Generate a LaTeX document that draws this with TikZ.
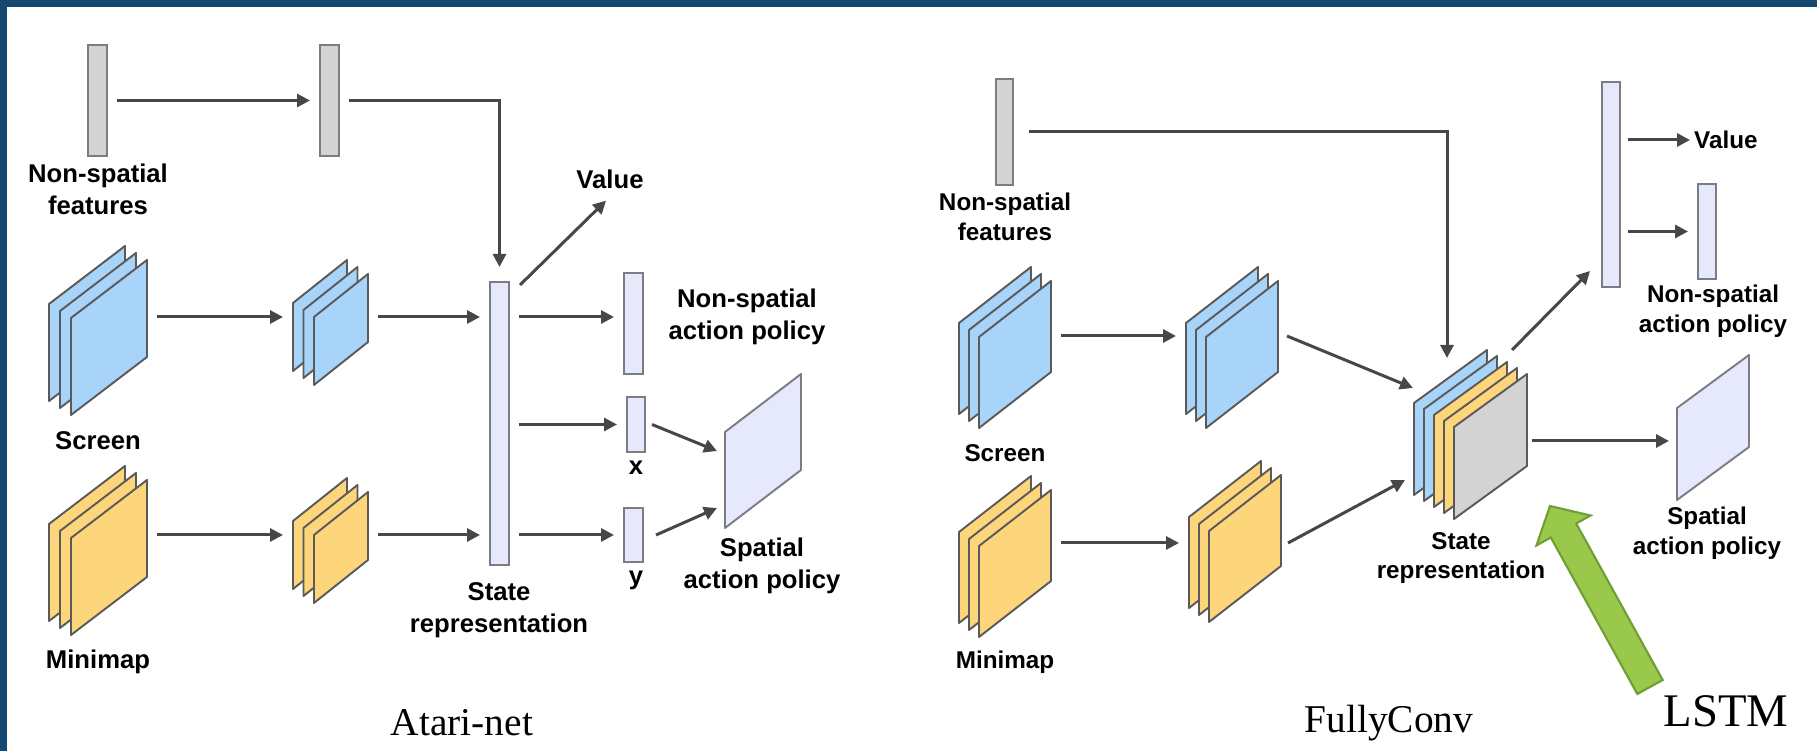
\documentclass[tikz,border=0pt]{standalone}
\usepackage{fontspec}
\setmainfont{Liberation Serif}
\newfontfamily\helv{Liberation Sans}
\usetikzlibrary{arrows.meta}

\definecolor{cadre}{HTML}{154870}
\definecolor{bleu}{HTML}{A9D4FA}
\definecolor{jaune}{HTML}{FDD57B}
\definecolor{gris}{HTML}{D3D3D3}
\definecolor{lavande}{HTML}{E6E9FB}
\definecolor{bordf}{HTML}{5A5A5A}
\definecolor{bordb}{HTML}{7C7C84}
\definecolor{trait}{HTML}{474747}
\definecolor{vert}{HTML}{99C84B}
\definecolor{vertfonce}{HTML}{6E9E35}

\begin{document}
\begin{tikzpicture}[x=0.1mm,y=-0.1mm]
% styles des éléments
\tikzstyle{feuille}=[draw=bordf, line width=0.55pt, line join=round]
\tikzstyle{barre}=[rectangle, draw=bordb, line width=0.6pt, inner sep=0pt, outer sep=0pt]
\tikzstyle{boite}=[rectangle, inner sep=0pt, outer sep=0pt, minimum height=1mm]
\tikzstyle{etiq}=[font={\helv\bfseries\fontsize{7.3}{9.1}\selectfont}, align=center, inner sep=1pt]
\tikzstyle{etiqB}=[etiq, font={\helv\bfseries\fontsize{6.9}{8.5}\selectfont}]
\tikzstyle{titre}=[font={\fontsize{11.2}{13}\selectfont}, inner sep=0pt]
% style des flèches
\tikzstyle{fleche}=[->, >={Triangle[length=1.3mm,width=1.3mm]}, line width=0.85pt, draw=trait, shorten <=1mm, shorten >=1mm]
\tikzstyle{diag}=[fleche, shorten <=0mm, shorten >=0mm]

% cadre
\useasboundingbox (0,0) rectangle (1817,751);
\fill[cadre] (0,0) rectangle (1817,7);
\fill[cadre] (0,0) rectangle (7,751);

% ---- Atari-net ----
% piles de cartes
\foreach \i in {0,1,2}
  \draw[feuille, fill=bleu] (49+11*\i,401+7*\i) -- ++(0,-97) -- ++(76,-58) -- ++(0,97) -- cycle;
\foreach \i in {0,1,2}
  \draw[feuille, fill=jaune] (49+11*\i,621+7*\i) -- ++(0,-97) -- ++(76,-58) -- ++(0,97) -- cycle;
\foreach \i in {0,1,2}
  \draw[feuille, fill=bleu] (293+10.5*\i,371+7*\i) -- ++(0,-68) -- ++(54,-43) -- ++(0,68) -- cycle;
\foreach \i in {0,1,2}
  \draw[feuille, fill=jaune] (293+10.5*\i,589+7*\i) -- ++(0,-68) -- ++(54,-43) -- ++(0,68) -- cycle;
\draw[feuille, draw=bordb, fill=lavande] (725,528) -- ++(0,-96) -- ++(76,-58) -- ++(0,96) -- cycle;
\node[boite, minimum width=9.8mm] (ecranA1) at (98,317) {};
\node[boite, minimum width=7.5mm] (ecranA2) at (330.5,317) {};
\node[boite, minimum width=9.8mm] (miniA1) at (98,535) {};
\node[boite, minimum width=7.5mm] (miniA2) at (330.5,535) {};
\node[boite, minimum width=7.6mm, minimum height=15.4mm] (spatA) at (763,451) {};
% barres
\node[barre, fill=gris, minimum width=1.9mm, minimum height=11.1mm] (nsfA1) at (97.5,100.5) {};
\node[barre, fill=gris, minimum width=1.9mm, minimum height=11.1mm] (nsfA2) at (329.5,100.5) {};
\node[barre, fill=lavande, minimum width=1.9mm, minimum height=28.3mm] (etatA) at (499.5,423.5) {};
\node[barre, fill=lavande, minimum width=1.9mm, minimum height=10.1mm] (nspA) at (633.5,323.5) {};
\node[barre, fill=lavande, minimum width=1.8mm, minimum height=5.5mm] (xA) at (636,424.5) {};
\node[barre, fill=lavande, minimum width=1.9mm, minimum height=5.4mm] (yA) at (633.5,535) {};
% textes
\node[etiq] (lblNsfA) at (98,189) {Non-spatial\\features};
\node[etiq] (lblEcranA) at (98,441) {Screen};
\node[etiq] (lblMiniA) at (98,662) {Minimap};
\node[etiq] (lblEtatA) at (499,610) {State\\representation};
\node[etiq] (valA) at (610,179) {Value};
\node[etiq] (lblNspA) at (747,317) {Non-spatial\\action policy};
\node[etiq] (lblxA) at (636,468) {x};
\node[etiq] (lblyA) at (636,580) {y};
\node[etiq] (lblSpatA) at (762,566) {Spatial\\action policy};
\node[titre] (titreA) at (462,723) {Atari-net};
% flèches
\draw[fleche] (nsfA1) -- (nsfA2);
\draw[fleche, shorten >=1.5mm] (nsfA2) -| (etatA);
\draw[fleche] (ecranA1) -- (ecranA2);
\draw[fleche] (ecranA2) -- (etatA.west |- ecranA2);
\draw[fleche] (miniA1) -- (miniA2);
\draw[fleche] (miniA2) -- (etatA.west |- miniA2);
\draw[diag] ([shift={(1.1mm,-0.3mm)}]etatA.north east) -- ([shift={(-0.4mm,-0.8mm)}]valA.south);
\draw[fleche] (etatA.east |- ecranA2) -- (nspA.west |- ecranA2);
\draw[fleche] (etatA.east |- xA) -- (xA);
\draw[fleche] (etatA.east |- yA) -- (yA);
\draw[diag] ([xshift=0.7mm]xA.east) -- ([xshift=-0.8mm]spatA.west);
\draw[diag] ([xshift=1.3mm]yA.east) -- ([shift={(-0.8mm,-5.7mm)}]spatA.west);

% ---- FullyConv ----
% piles de cartes
\foreach \i in {0,1,2}
  \draw[feuille, fill=bleu] (959+10*\i,414+7*\i) -- ++(0,-91) -- ++(72,-56) -- ++(0,91) -- cycle;
\foreach \i in {0,1,2}
  \draw[feuille, fill=bleu] (1186+10*\i,414+7*\i) -- ++(0,-91) -- ++(72,-56) -- ++(0,91) -- cycle;
\foreach \i in {0,1,2}
  \draw[feuille, fill=jaune] (959+10*\i,623+7*\i) -- ++(0,-91) -- ++(72,-56) -- ++(0,91) -- cycle;
\foreach \i in {0,1,2}
  \draw[feuille, fill=jaune] (1189+10*\i,608+7*\i) -- ++(0,-91) -- ++(72,-56) -- ++(0,91) -- cycle;
\foreach \c [count=\i from 0] in {bleu,bleu,jaune,jaune,gris}
  \draw[feuille, fill=\c] (1414+10*\i,495+6*\i) -- ++(0,-92) -- ++(73,-53) -- ++(0,92) -- cycle;
\draw[feuille, draw=bordb, fill=lavande] (1677,500) -- ++(0,-92) -- ++(72,-53) -- ++(0,92) -- cycle;
\node[boite, minimum width=9.2mm] (ecranB1) at (1005,336) {};
\node[boite, minimum width=9.2mm] (ecranB2) at (1232,336) {};
\node[boite, minimum width=9.2mm] (miniB1) at (1005,543) {};
\node[boite, minimum width=9.2mm] (miniB2) at (1235,543) {};
\node[boite, minimum width=11.3mm, minimum height=18.2mm] (etatB) at (1470.5,441) {};
\node[boite, minimum width=7.2mm, minimum height=14.5mm] (spatB) at (1713,427.5) {};
% barres
\node[barre, fill=gris, minimum width=1.7mm, minimum height=10.6mm] (nsfB) at (1004.5,132) {};
\node[barre, fill=lavande, minimum width=1.8mm, minimum height=20.5mm] (barreB) at (1611,184.5) {};
\node[barre, fill=lavande, minimum width=1.8mm, minimum height=9.5mm] (nspB) at (1707,231.5) {};
% textes
\node[etiqB] (lblNsfB) at (1005,217) {Non-spatial\\features};
\node[etiqB] (lblEcranB) at (1005,453) {Screen};
\node[etiqB] (lblMiniB) at (1005,662) {Minimap};
\node[etiqB] (lblEtatB) at (1461,558) {State\\representation};
\node[etiqB, anchor=west] (valB) at (1690,140) {Value};
\node[etiqB] (lblNspB) at (1713,311) {Non-spatial\\action policy};
\node[etiqB] (lblSpatB) at (1707,533) {Spatial\\action policy};
\node[titre] (titreB) at (1389,723) {FullyConv};
\node[titre, font={\fontsize{13.3}{15}\selectfont}] (lstm) at (1726,711) {LSTM};
% flèches
\draw[fleche, shorten <=1.6mm, shorten >=0mm] (nsfB) -| ([xshift=-2.35mm,yshift=-0.8mm]etatB.north);
\draw[fleche] (ecranB1) -- (ecranB2);
\draw[fleche] (miniB1) -- (miniB2);
\draw[diag] ([xshift=0.9mm]ecranB2.east) -- ([shift={(-0.1mm,5.3mm)}]etatB.west);
\draw[diag] ([xshift=0.7mm]miniB2.east) -- ([shift={(-0.9mm,-3.9mm)}]etatB.west);
\draw[diag] ([xshift=-1.5mm]etatB.north east) -- ([shift={(-1.2mm,1.6mm)}]barreB.south west);
\draw[fleche, shorten <=0.8mm, shorten >=0mm] (barreB.east |- valB) -- (valB.west);
\draw[fleche, shorten <=0.8mm] (barreB.east |- nspB) -- (nspB);
\draw[fleche, shorten <=0.5mm, shorten >=0.8mm] (etatB.east) -- (etatB.east -| spatB.west);
% flèche LSTM
\draw[fill=vert, draw=vertfonce, line width=0.6pt, line join=miter]
  (1662.7,680) -- (1576.2,523.5) -- (1590.6,515.5) -- (1550,506)
  -- (1536.4,545.5) -- (1550.8,537.5) -- (1637.3,694) -- cycle;
\end{tikzpicture}
\end{document}
